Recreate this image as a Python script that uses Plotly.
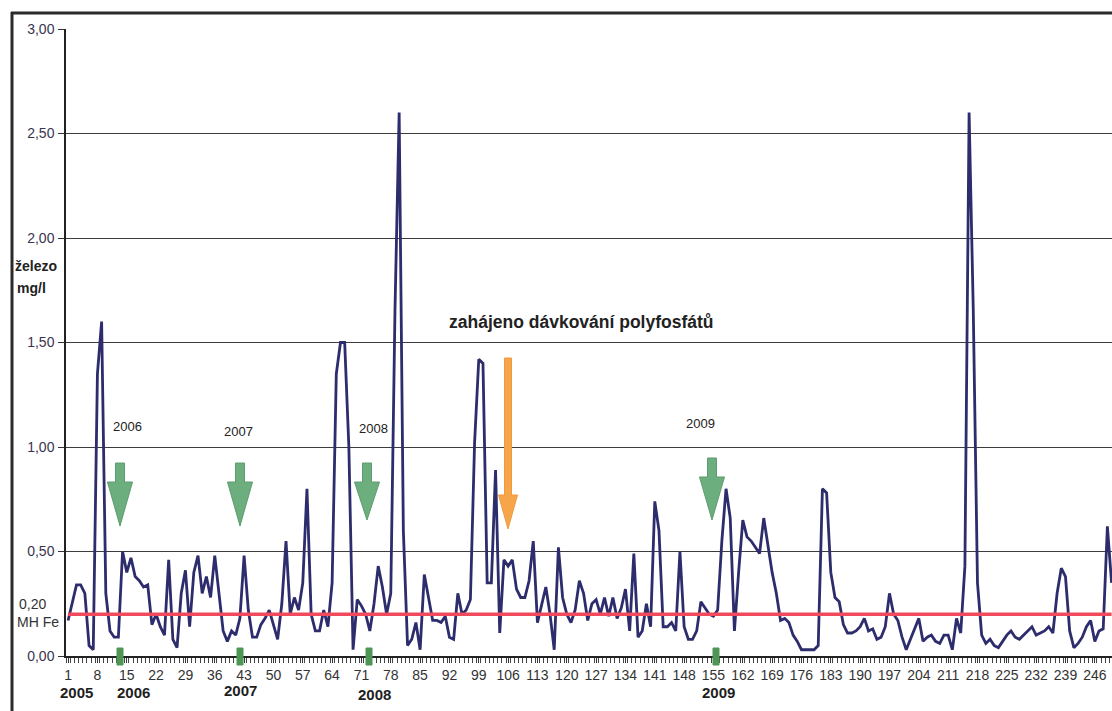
import plotly.graph_objects as go

# ---------------- data ----------------
iron_mg_l = [
    0.17, 0.25, 0.34, 0.34, 0.30, 0.05, 0.03, 1.35, 1.60, 0.30,
    0.12, 0.09, 0.09, 0.50, 0.40, 0.47, 0.38, 0.36, 0.33, 0.34,
    0.15, 0.20, 0.14, 0.10, 0.46, 0.08, 0.04, 0.30, 0.41, 0.14,
    0.40, 0.48, 0.30, 0.38, 0.28, 0.48, 0.30, 0.12, 0.07, 0.12,
    0.10, 0.18, 0.48, 0.22, 0.09, 0.09, 0.15, 0.18, 0.22, 0.15,
    0.08, 0.25, 0.55, 0.20, 0.28, 0.22, 0.35, 0.80, 0.20, 0.12,
    0.12, 0.22, 0.14, 0.35, 1.35, 1.50, 1.50, 1.00, 0.03, 0.27,
    0.24, 0.20, 0.12, 0.25, 0.43, 0.33, 0.20, 0.30, 1.65, 2.60,
    0.60, 0.05, 0.08, 0.16, 0.03, 0.39, 0.28, 0.17, 0.17, 0.16,
    0.19, 0.09, 0.08, 0.30, 0.20, 0.22, 0.27, 1.02, 1.42, 1.40,
    0.35, 0.35, 0.89, 0.11, 0.46, 0.43, 0.46, 0.32, 0.28, 0.28,
    0.36, 0.55, 0.16, 0.24, 0.33, 0.20, 0.03, 0.52, 0.28, 0.20,
    0.16, 0.22, 0.36, 0.30, 0.17, 0.25, 0.27, 0.20, 0.28, 0.19,
    0.28, 0.18, 0.23, 0.32, 0.12, 0.49, 0.09, 0.12, 0.25, 0.14,
    0.74, 0.60, 0.14, 0.14, 0.16, 0.12, 0.50, 0.14, 0.08, 0.08,
    0.12, 0.26, 0.23, 0.20, 0.19, 0.22, 0.55, 0.80, 0.66, 0.12,
    0.40, 0.65, 0.57, 0.55, 0.52, 0.49, 0.66, 0.53, 0.40, 0.30,
    0.17, 0.18, 0.16, 0.10, 0.07, 0.03, 0.03, 0.03, 0.03, 0.05,
    0.80, 0.78, 0.40, 0.28, 0.26, 0.15, 0.11, 0.11, 0.12, 0.14,
    0.18, 0.12, 0.13, 0.08, 0.09, 0.14, 0.30, 0.20, 0.17, 0.09,
    0.03, 0.08, 0.13, 0.18, 0.07, 0.09, 0.10, 0.07, 0.06, 0.10,
    0.10, 0.03, 0.18, 0.11, 0.43, 2.60, 1.65, 0.35, 0.10, 0.06,
    0.08, 0.05, 0.04, 0.07, 0.10, 0.12, 0.09, 0.08, 0.10, 0.12,
    0.14, 0.10, 0.11, 0.12, 0.14, 0.11, 0.30, 0.42, 0.38, 0.12,
    0.04, 0.06, 0.09, 0.14, 0.17, 0.07, 0.12, 0.13, 0.62, 0.35,
]
sample_no = list(range(1, len(iron_mg_l) + 1))

limit_mh_fe = 0.20
x_tick_vals = [1, 8, 15, 22, 29, 36, 43, 50, 57, 64, 71, 78, 85, 92, 99, 106, 113,
               120, 127, 134, 141, 148, 155, 162, 169, 176, 183, 190, 197, 204,
               211, 218, 225, 232, 239, 246]
y_tick_vals = [0.0, 0.5, 1.0, 1.5, 2.0, 2.5, 3.0]
y_tick_text = ["0,00", "0,50", "1,00", "1,50", "2,00", "2,50", "3,00"]

year_labels = ["2005", "2006", "2007", "2008", "2009"]
arrow_years = ["2006", "2007", "2008", "2009"]

# ---------------- layout geometry (pixels) ----------------
W_FIG, H_FIG = 1112, 711
L, T, B, R = 66, 29, 656, 1112
PW, PH = R - L, B - T


def pxx(x):
    return (x - L) / PW


def pxy(y):
    return (B - y) / PH


fig = go.Figure()

fig.add_trace(go.Scatter(
    x=sample_no, y=iron_mg_l, mode="lines",
    line=dict(color="#2d2c6c", width=2.8),
    hoverinfo="x+y", showlegend=False,
))
fig.add_trace(go.Scatter(
    x=[sample_no[0], sample_no[-1]], y=[limit_mh_fe, limit_mh_fe], mode="lines",
    line=dict(color="#f04a5c", width=3.5),
    hoverinfo="skip", showlegend=False,
))

shapes = []
# outer frame (top & left)
shapes.append(dict(type="line", xref="paper", yref="paper",
                   x0=pxx(11), x1=pxx(1112), y0=pxy(13), y1=pxy(13),
                   line=dict(color="#2a2a2a", width=3)))
shapes.append(dict(type="line", xref="paper", yref="paper",
                   x0=pxx(12), x1=pxx(12), y0=pxy(12), y1=pxy(712),
                   line=dict(color="#2a2a2a", width=3)))


def down_arrow(cx, top, shaft_bot, tip, shaft_hw, head_hw, color, edge):
    pts = [(cx - shaft_hw, top), (cx + shaft_hw, top), (cx + shaft_hw, shaft_bot),
           (cx + head_hw, shaft_bot), (cx, tip), (cx - head_hw, shaft_bot),
           (cx - shaft_hw, shaft_bot)]
    path = "M " + " L ".join(f"{pxx(a):.5f},{pxy(b):.5f}" for a, b in pts) + " Z"
    return dict(type="path", xref="paper", yref="paper", path=path,
                fillcolor=color, line=dict(color=edge, width=1))


green, green_edge = "#6cae7e", "#5e9c6f"
for cx, top, sb, tip in [(120, 463, 482, 526), (240, 463, 482, 526),
                         (367, 463, 482, 520), (712, 458, 477, 520)]:
    shapes.append(down_arrow(cx, top, sb, tip, 4.5, 12.5, green, green_edge))
# orange arrow
shapes.append(down_arrow(508, 358, 495, 529, 3.5, 9.5, "#f7a54a", "#f09a3a"))

# green markers on the x axis
for cx in [120, 240, 369, 716]:
    shapes.append(dict(type="rect", xref="paper", yref="paper",
                       x0=pxx(cx - 3), x1=pxx(cx + 3), y0=pxy(665), y1=pxy(648),
                       fillcolor="#4f9655", line=dict(color="#4f9655", width=1)))

annotations = []


def txt(text, x, y, size=11, bold=False, xanchor="center", color="#222222"):
    annotations.append(dict(
        text=f"<b>{text}</b>" if bold else text, xref="paper", yref="paper",
        x=pxx(x), y=pxy(y), xanchor=xanchor, yanchor="middle", showarrow=False,
        font=dict(family="Liberation Sans, Arial, sans-serif", size=size, color=color)))


txt("železo", 13, 266, size=14, bold=True, xanchor="left")
txt("mg/l", 15, 288, size=14, bold=True, xanchor="left")
txt("0,20", 17, 604, size=14, xanchor="left", color="#333333")
txt("MH Fe", 15, 622, size=14, xanchor="left", color="#333333")
txt("zahájeno dávkování polyfosfátů", 581, 322, size=17.5, bold=True)
for yr, (x, y) in zip(arrow_years, [(127, 426), (238, 431), (373, 429), (700, 424)]):
    txt(yr, x, y, size=13)
for yr, (x, y) in zip(year_labels, [(76, 692), (133, 692), (240, 690), (374, 694), (718, 692)]):
    txt(yr, x, y, size=15, bold=True, color="#1e1e1e")

fig.update_layout(
    width=W_FIG, height=H_FIG,
    margin=dict(l=L, r=W_FIG - R, t=T, b=H_FIG - B, pad=0),
    paper_bgcolor="white", plot_bgcolor="white",
    shapes=shapes, annotations=annotations,
    font=dict(family="Liberation Sans, Arial, sans-serif", color="#333333"),
    xaxis=dict(
        range=[0.5, 250.1], tickmode="array", tickvals=x_tick_vals,
        ticks="outside", ticklen=5, tickcolor="#333333", tickwidth=1,
        tickfont=dict(size=14, color="#333333"),
        showgrid=False, zeroline=False,
        showline=True, linecolor="#222222", linewidth=1.5,
        minor=dict(ticks="outside", ticklen=5, tickcolor="#444444", dtick=1, tick0=0.5,
                   showgrid=False),
    ),
    yaxis=dict(
        range=[0, 3.0], tickmode="array", tickvals=y_tick_vals, ticktext=y_tick_text,
        ticks="outside", ticklen=6, tickcolor="#333333",
        tickfont=dict(size=14, color="#3a3350"), ticklabelstandoff=1,
        showgrid=True, gridcolor="#3c3c3c", gridwidth=1, zeroline=False,
        showline=True, linecolor="#222222", linewidth=1.5,
    ),
)

fig.write_html(
    "out.html",
    config={"displayModeBar": False},
    post_script="document.body.style.margin='0';document.body.style.overflow='hidden';",
)
